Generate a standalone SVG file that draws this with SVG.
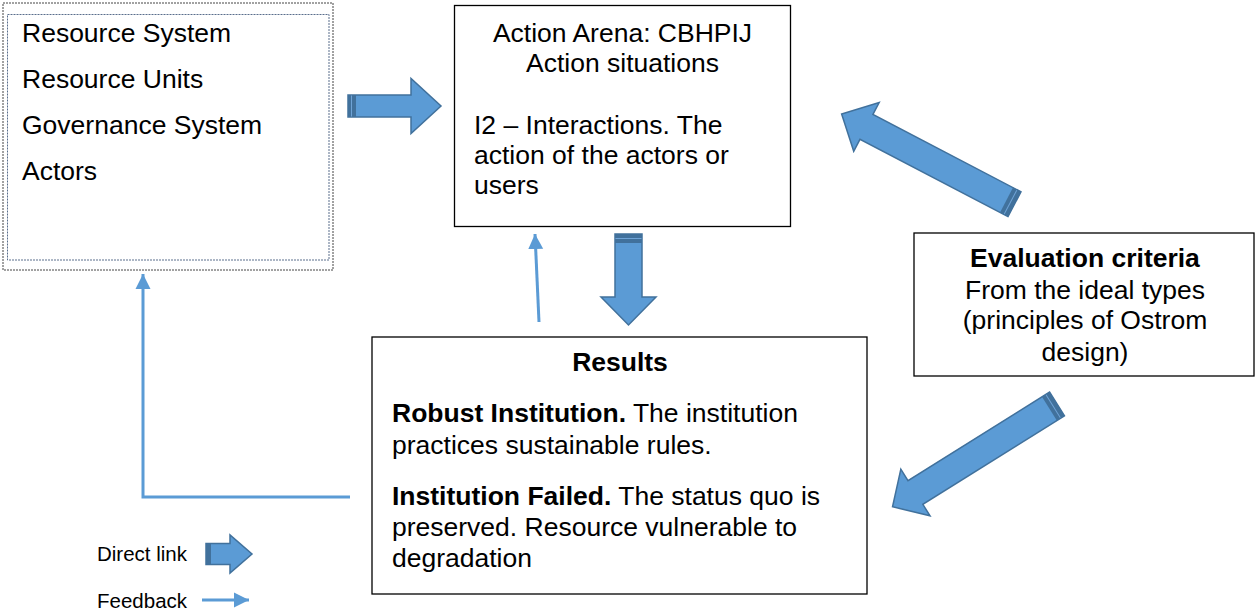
<svg xmlns="http://www.w3.org/2000/svg" width="1255" height="612" viewBox="0 0 1255 612">
<style>
  .t{font-family:"Liberation Sans",Arial,sans-serif;font-size:26.5px;fill:#000}
  .b{font-weight:bold}
  .c{text-anchor:middle}
  .lg{font-family:"Liberation Sans",Arial,sans-serif;font-size:20.5px;fill:#000}
  .box{fill:#fff;stroke:#000;stroke-width:1.3}
  .blk{fill:#5B9BD5;stroke:#41719C;stroke-width:1.5;stroke-linejoin:miter}
  .band{fill:#41719C;stroke:none}
  .bandl{stroke:#6FA3D6;stroke-width:1}
  .fb{fill:none;stroke:#5B9BD5;stroke-width:3}
</style>
<defs>
  <marker id="ah" markerUnits="userSpaceOnUse" markerWidth="16" markerHeight="16" viewBox="0 0 16 16" refX="15" refY="8" orient="auto">
    <path d="M0,0.5 L15,8 L0,15.5 Z" fill="#5B9BD5"/>
  </marker>
</defs>
<rect width="1255" height="612" fill="#fff"/>

<g id="context">
  <rect x="3" y="3" width="330" height="267" fill="#fff" stroke="#444" stroke-width="1" stroke-dasharray="2,1"/>
  <rect x="7.5" y="14.5" width="321.5" height="245.5" fill="none" stroke="#5A6E8C" stroke-width="1" stroke-dasharray="2,1"/>
  <text class="t" x="22" y="42">Resource System</text>
  <text class="t" x="22" y="88">Resource Units</text>
  <text class="t" x="22" y="134">Governance System</text>
  <text class="t" x="22" y="180">Actors</text>
</g>

<g id="action-arena">
  <rect class="box" x="454.5" y="5.5" width="336" height="221"/>
  <text class="t c" x="622.5" y="42">Action Arena: CBHPIJ</text>
  <text class="t c" x="622.5" y="72">Action situations</text>
  <text class="t" x="474" y="134">I2 – Interactions. The</text>
  <text class="t" x="474" y="164">action of the actors or</text>
  <text class="t" x="474" y="194">users</text>
</g>

<g id="results">
  <rect class="box" x="372" y="337" width="495" height="257"/>
  <text class="t b c" x="620" y="371">Results</text>
  <text class="t" x="392" y="422"><tspan class="b">Robust Institution.</tspan> The institution</text>
  <text class="t" x="392" y="454">practices sustainable rules.</text>
  <text class="t" x="392" y="505"><tspan class="b">Institution Failed.</tspan> The status quo is</text>
  <text class="t" x="392" y="536">preserved. Resource vulnerable to</text>
  <text class="t" x="392" y="567">degradation</text>
</g>

<g id="evaluation">
  <rect class="box" x="914" y="233" width="340" height="143"/>
  <text class="t b c" x="1085" y="267">Evaluation criteria</text>
  <text class="t c" x="1085" y="299">From the ideal types</text>
  <text class="t c" x="1085" y="329">(principles of Ostrom</text>
  <text class="t c" x="1085" y="361">design)</text>
</g>

<g id="legend">
  <text class="lg" x="97" y="561">Direct link</text>
  <text class="lg" x="97" y="608">Feedback</text>
  <g transform="translate(206,554)">
    <path class="blk" d="M0,-10.5 H24 V-19 L46,0 L24,19 V10.5 H0 Z"/>
    <rect class="band" x="0" y="-10.5" width="5" height="21"/>
  </g>
  <path class="fb" d="M202,600 H249" marker-end="url(#ah)"/>
</g>

<g id="connectors">
  <!-- direct links (block arrows) -->
  <g transform="translate(348,106)">
    <path class="blk" d="M0,-11 H63 V-27.5 L93,0 L63,27.5 V11 H0 Z"/>
    <rect class="band" x="0" y="-11" width="8" height="22"/>
    <line class="bandl" x1="3.5" y1="-10.5" x2="3.5" y2="10.5"/>
  </g>
  <g transform="translate(628.5,234) rotate(90)">
    <path class="blk" d="M0,-13.5 H63 V-27.5 L91,0 L63,27.5 V13.5 H0 Z"/>
    <rect class="band" x="0" y="-13.5" width="9" height="27"/>
    <line class="bandl" x1="4.5" y1="-13" x2="4.5" y2="13"/>
  </g>
  <g transform="translate(1014.5,204.2) rotate(207.56)">
    <path class="blk" d="M0,-14 H167 V-27.5 L195,0 L167,27.5 V14 H0 Z"/>
    <rect class="band" x="0" y="-14" width="9" height="28"/>
    <line class="bandl" x1="4.5" y1="-13.5" x2="4.5" y2="13.5"/>
  </g>
  <g transform="translate(1057,403.9) rotate(147.97)">
    <path class="blk" d="M0,-14 H167 V-27.5 L194,0 L167,27.5 V14 H0 Z"/>
    <rect class="band" x="0" y="-14" width="9" height="28"/>
    <line class="bandl" x1="4.5" y1="-13.5" x2="4.5" y2="13.5"/>
  </g>
  <!-- feedback lines -->
  <path class="fb" d="M350,497 H143 V274" marker-end="url(#ah)"/>
  <path class="fb" d="M539,322 L535,234" marker-end="url(#ah)"/>
</g>
</svg>
